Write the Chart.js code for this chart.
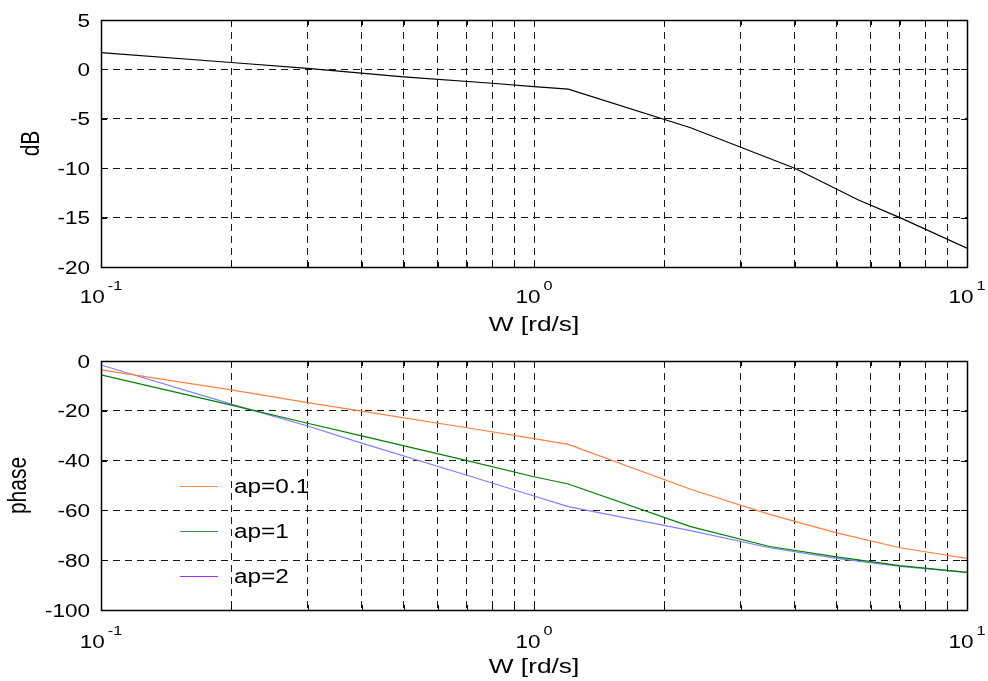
<!DOCTYPE html>
<html>
<head>
<meta charset="utf-8">
<script src="https://cdn.jsdelivr.net/npm/chart.js@4.4.0/dist/chart.umd.min.js"></script>
<style>
  html, body { margin: 0; padding: 0; background: #fff; }
  .plot { position: absolute; left: 0; width: 988px; }
</style>
</head>
<body>
<div class="plot" style="top:0;height:340px"><canvas id="magChart"></canvas></div>
<div class="plot" style="top:340px;height:341px"><canvas id="phaseChart"></canvas></div>
<script>
// frequency points (rd/s) and magnitude in dB
const wMag = [0.1, 0.2, 0.3, 0.5, 0.8, 1.0, 1.2, 2.3, 4, 5.6, 7, 10];
const magDb = [1.7, 0.7, 0.1, -0.75, -1.4, -1.75, -2.0, -5.9, -10, -13.2, -15, -18.1];

// phase curves for the three ap values
const wPhase = [0.1, 0.2, 0.3, 0.4, 0.7, 1.0, 1.2, 2.3, 3.5, 5, 7, 10];
const phaseAp01 = [-3.6, -11.6, -16.7, -20.1, -26.8, -31.2, -33.5, -51.5, -61.6, -69, -75, -79.3];
const phaseAp1 = [-5.6, -17.7, -25, -30.1, -40, -46.5, -49.4, -66.5, -74.5, -78.7, -82.2, -84.9];
const phaseAp2 = [-1.6, -17.3, -26.1, -33, -45.9, -54.2, -58.5, -68.1, -75, -79.3, -82.5, -84.9];
const apLabels = ["ap=0.1", "ap=1", "ap=2"];

const xLabel = "W [rd/s]";
const SX = 1.25; // the original text is slightly stretched sideways
const FONT = '"Liberation Sans", Arial, sans-serif';

const toPoints = (xs, ys) => xs.map((x, i) => ({ x: x, y: ys[i] }));

function drawText(ctx, s, x, y, align, size, rotate) {
  ctx.save();
  ctx.translate(x, y);
  ctx.scale(SX, 1);
  if (rotate) ctx.rotate(-Math.PI / 2);
  ctx.font = size + "px " + FONT;
  ctx.fillStyle = "#000";
  ctx.textAlign = align;
  ctx.textBaseline = "alphabetic";
  ctx.fillText(s, 0, 0);
  ctx.restore();
}

// box, inner ticks, labels and legend drawn the matlab way
const matlabAxes = {
  id: "matlabAxes",
  afterDraw(chart, args, opts) {
    const ctx = chart.ctx;
    const a = chart.chartArea;
    const xs = chart.scales.x;
    const ys = chart.scales.y;

    ctx.save();
    ctx.strokeStyle = "#000";
    ctx.lineWidth = 1;
    ctx.setLineDash([]);
    // small solid ticks on the inside of each edge
    ctx.beginPath();
    xs.ticks.forEach(t => {
      const px = Math.round(xs.getPixelForValue(t.value)) + 0.5;
      ctx.moveTo(px, a.bottom); ctx.lineTo(px, a.bottom - 5);
      ctx.moveTo(px, a.top); ctx.lineTo(px, a.top + 5);
    });
    ys.ticks.forEach(t => {
      const py = Math.round(ys.getPixelForValue(t.value)) + 0.5;
      ctx.moveTo(a.left, py); ctx.lineTo(a.left + 6, py);
      ctx.moveTo(a.right, py); ctx.lineTo(a.right - 6, py);
    });
    ctx.stroke();
    ctx.lineWidth = 1.5;
    ctx.strokeRect(Math.round(a.left) + 0.5, Math.round(a.top) + 0.5,
      Math.round(a.right - a.left), Math.round(a.bottom - a.top));
    ctx.restore();

    // y tick labels
    ys.ticks.forEach(t => {
      const py = ys.getPixelForValue(t.value);
      drawText(ctx, String(t.value), a.left - 11, py + 6.5, "right", 18);
    });

    // x decade labels 10^n
    xs.ticks.forEach(t => {
      const e = Math.log10(t.value);
      if (Math.abs(e - Math.round(e)) > 1e-9) return;
      const sup = String(Math.round(e));
      const px = xs.getPixelForValue(t.value);
      ctx.save();
      ctx.font = "18px " + FONT;
      const w1 = ctx.measureText("10").width * SX;
      ctx.font = "13px " + FONT;
      const w2 = ctx.measureText(sup).width * SX;
      ctx.restore();
      const x0 = px - (w1 + 3 + w2) / 2;
      drawText(ctx, "10", x0, a.bottom + opts.tickBase, "left", 18);
      drawText(ctx, sup, x0 + w1 + 3, a.bottom + opts.tickBase - 13, "left", 13);
    });

    // axis titles
    drawText(ctx, xLabel, (a.left + a.right) / 2, a.bottom + opts.titleBase, "center", 21);
    drawText(ctx, opts.yTitle, a.left - opts.yTitleOffset, (a.top + a.bottom) / 2, "center", opts.yTitleSize, true);

    // legend without a box
    if (opts.legend) {
      opts.legend.forEach((item, i) => {
        const y = a.top + 125 + i * 45;
        ctx.save();
        ctx.strokeStyle = item.color;
        ctx.lineWidth = 1.2;
        ctx.beginPath();
        ctx.moveTo(a.left + 79, y + 0.5);
        ctx.lineTo(a.left + 117, y + 0.5);
        ctx.stroke();
        ctx.restore();
        drawText(ctx, item.text, a.left + 133, y + 7, "left", 19.5);
      });
    }
  }
};
Chart.register(matlabAxes);

function xScale(height) {
  return {
    type: "logarithmic",
    min: 0.1,
    max: 10,
    ticks: { display: false },
    // keep only 1..9 x 10^n grid positions
    afterBuildTicks: s => {
      s.ticks = s.ticks.filter(t => {
        const m = t.value / Math.pow(10, Math.floor(Math.log10(t.value) + 1e-9));
        return Math.abs(m - Math.round(m)) < 1e-6;
      });
    },
    afterFit: s => { s.height = height; },
    grid: { color: "rgba(0,0,0,0.9)", lineWidth: 1, drawTicks: false },
    border: { display: false, dash: [7, 5] }
  };
}

function yScale(min, max, step) {
  return {
    min: min,
    max: max,
    ticks: { display: false, stepSize: step },
    afterFit: s => { s.width = 101; },
    grid: { color: "rgba(0,0,0,0.9)", lineWidth: 1, drawTicks: false },
    border: { display: false, dash: [7, 5] }
  };
}

function lineSet(label, xs, ys, color) {
  return {
    label: label,
    data: toPoints(xs, ys),
    borderColor: color,
    backgroundColor: color,
    borderWidth: 1.2,
    pointRadius: 0,
    showLine: true,
    tension: 0
  };
}

new Chart(document.getElementById("magChart"), {
  type: "scatter",
  data: { datasets: [lineSet("dB", wMag, magDb, "#000000")] },
  options: {
    responsive: true,
    maintainAspectRatio: false,
    animation: false,
    layout: { padding: { left: 0, top: 20, right: 21, bottom: 0 } },
    scales: { x: xScale(73), y: yScale(-20, 5, 5) },
    plugins: {
      legend: { display: false },
      tooltip: { enabled: false },
      matlabAxes: { yTitle: "dB", yTitleOffset: 62, yTitleSize: 21, tickBase: 36, titleBase: 64 }
    }
  }
});

const phaseColors = ["#ff7f40", "#008000", "#7f7fff"];
const legendColors = ["#ff8c55", "#3a9a3a", "#9933ff"];

new Chart(document.getElementById("phaseChart"), {
  type: "scatter",
  data: {
    datasets: [
      lineSet(apLabels[0], wPhase, phaseAp01, phaseColors[0]),
      lineSet(apLabels[1], wPhase, phaseAp1, phaseColors[1]),
      lineSet(apLabels[2], wPhase, phaseAp2, phaseColors[2])
    ]
  },
  options: {
    responsive: true,
    maintainAspectRatio: false,
    animation: false,
    layout: { padding: { left: 0, top: 21, right: 21, bottom: 0 } },
    scales: { x: xScale(71), y: yScale(-100, 0, 20) },
    plugins: {
      legend: { display: false },
      tooltip: { enabled: false },
      matlabAxes: {
        yTitle: "phase", yTitleOffset: 75, yTitleSize: 21, tickBase: 38, titleBase: 63,
        legend: apLabels.map((t, i) => ({ text: t, color: legendColors[i] }))
      }
    }
  }
});
</script>
</body>
</html>
